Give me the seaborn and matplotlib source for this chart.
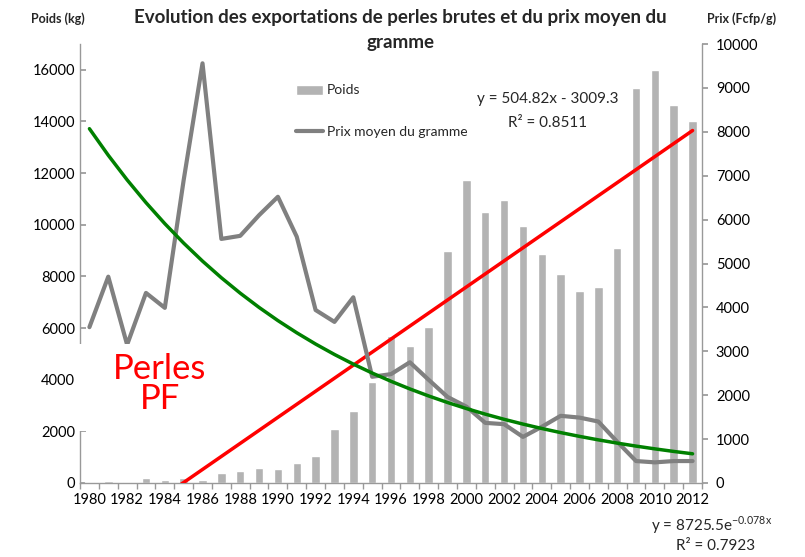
import numpy as np
import pandas as pd
import matplotlib
matplotlib.use("Agg")
import matplotlib.pyplot as plt
import matplotlib.patches as mpatches
import seaborn as sns
from matplotlib.ticker import FixedLocator

years = list(range(1980, 2013))
poids = [20, 80, 20, 180, 100, 200, 100, 400, 450, 600, 560, 780, 1050, 2100, 2800,
         3900, 5700, 5300, 6050, 9000, 11750, 10500, 10950, 9950, 8850, 8100, 7450,
         7600, 9100, 15300, 16000, 14650, 14000]
prix = [3550, 4700, 3150, 4330, 3990, 6900, 9560, 5560, 5630, 6100, 6520, 5610, 3940,
        3670, 4230, 2420, 2480, 2750, 2350, 1960, 1740, 1370, 1340, 1050, 1280, 1530,
        1490, 1400, 940, 500, 470, 500, 500]
lin_slope, lin_icpt = 504.82, -3009.3
exp_a, exp_b = 8725.5, -0.078

sns.set_theme(style="white")
plt.rcParams['font.family'] = ['Lato', 'DejaVu Sans']

df = pd.DataFrame({"year": years, "poids": poids, "prix": prix})
idx = np.arange(1, len(years) + 1)
df["lin"] = lin_slope * idx + lin_icpt
df["expo"] = exp_a * np.exp(exp_b * idx)

fig = plt.figure(figsize=(8.05, 5.57), dpi=100)
ax = fig.add_axes([80/805, 1-483/557, (702-80)/805, (483-44)/557])
ax2 = ax.twinx()

sns.barplot(data=df, x="year", y="poids", native_scale=True, color="#b3b3b3",
            saturation=1, width=0.45, ax=ax, label="Poids", zorder=2)
sns.lineplot(data=df, x="year", y="lin", color="#ff0000", lw=2.5, ax=ax, zorder=3)

sns.lineplot(data=df, x="year", y="prix", color="#808080", lw=3, ax=ax2,
             label="Prix moyen du gramme", zorder=3)
sns.lineplot(data=df, x="year", y="expo", color="#008000", lw=2.5, ax=ax2, zorder=4)

ax.set_xlim(1979.5, 2012.5)
ax.set_ylim(0, 17000)
ax2.set_ylim(0, 10000)
ax.set_yticks(range(0, 16001, 2000))
ax2.set_yticks(range(0, 10001, 1000))
ax.set_xticks(years[::2])
ax.set_xticklabels([str(y) for y in years[::2]])
ax.xaxis.set_minor_locator(FixedLocator(np.arange(1979.5, 2013, 1)))
ax.set_xlabel("")
ax.set_ylabel("")
ax2.set_ylabel("")

for a in (ax, ax2):
    for s in a.spines.values():
        s.set_color("#999999")
        s.set_linewidth(1)
    a.spines["top"].set_visible(False)
    a.tick_params(labelsize=10.5, colors="black", length=0)
ax.spines["right"].set_visible(False)
ax2.spines["left"].set_visible(False)
ax2.spines["bottom"].set_visible(False)
ax.tick_params(axis="x", which="minor", bottom=True, length=4, color="#999999", width=1)
ax.tick_params(axis="x", which="major", pad=7)
ax.tick_params(axis="y", left=True, length=4, color="#999999", direction="in")
ax2.tick_params(axis="y", right=True, length=4, color="#999999", direction="out", pad=6)
ax.grid(False)
ax2.grid(False)

# legend
h1, l1 = ax.get_legend_handles_labels()
h2, l2 = ax2.get_legend_handles_labels()
if ax2.get_legend():
    ax2.get_legend().remove()
if ax.get_legend():
    ax.get_legend().remove()
leg = fig.legend(h1 + h2, l1 + l2, loc="upper left", bbox_to_anchor=(283/805, 1-72/557),
                 frameon=False, fontsize=10, labelspacing=2.1, handlelength=2.0,
                 handletextpad=0.25)

fig.text(400/805, 1-30/557, "Evolution des exportations de perles brutes et du prix moyen du\ngramme",
         ha="center", va="center", fontsize=13.5, fontweight="bold", linespacing=1.55)
fig.text(58/805, 1-19/557, "Poids (kg)", ha="center", va="center", fontsize=9, fontweight="bold")
fig.text(742/805, 1-19/557, "Prix (Fcfp/g)", ha="center", va="center", fontsize=9, fontweight="bold")

fig.text(548/805, 1-99/557, "y = 504.82x - 3009.3", ha="center", va="center", fontsize=11)
fig.text(548/805, 1-123/557, "R² = 0.8511", ha="center", va="center", fontsize=11)
fig.text(712/805, 1-525/557, r"y = 8725.5e$^{\mathregular{-0.078x}}$", ha="center", va="center", fontsize=11)
fig.text(716/805, 1-546/557, "R² = 0.7923", ha="center", va="center", fontsize=11)

# white text box behind the "Perles PF" label (covers the axis line as in the reference)
box = mpatches.Rectangle((76/805, 1-431/557), (216-76)/805, (431-344)/557,
                         transform=fig.transFigure, facecolor="white", edgecolor="none",
                         zorder=5)
fig.add_artist(box)
fig.text(160/805, 1-384/557, "Perles\nPF", color="#ff0000", fontsize=25, ha="center",
         va="center", linespacing=0.95, zorder=6)

fig.savefig("out.png", dpi=100)
